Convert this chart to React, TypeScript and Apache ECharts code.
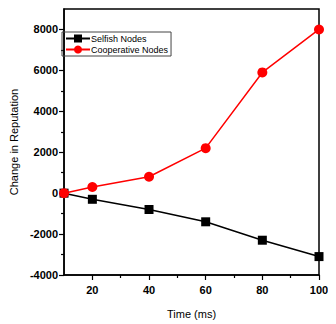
import React, { useEffect, useRef } from "react";
import * as echarts from "echarts";

const times = [10, 20, 40, 60, 80, 100];
const selfish = [0, -300, -800, -1400, -2300, -3100];
const cooperative = [0, 300, 800, 2200, 5900, 8000];
const xMajor = [20, 40, 60, 80, 100];
const xMinor = [30, 50, 70, 90];
const yMajor = [-4000, -2000, 0, 2000, 4000, 6000, 8000];
const yMinor = [-3000, -1000, 1000, 3000, 5000, 7000];

const FONT = "Liberation Sans";

export default function App() {
  const ref = useRef<HTMLDivElement>(null);
  useEffect(() => {
    const chart = echarts.init(ref.current!, null, { renderer: "svg" });
    const axisLine = { show: true, onZero: false, lineStyle: { color: "#000", width: 1.5 } };
    const baseX = { type: "value", min: 10, max: 100, splitLine: { show: false } };
    const baseY = { type: "value", min: -4000, max: 9000, splitLine: { show: false } };
    const fmt = (v: number) => String(v);
    chart.setOption({
      animation: false,
      backgroundColor: "#fff",
      grid: { left: 56, right: 17, top: 9, bottom: 47, show: true, borderColor: "#000", borderWidth: 1.5 },
      legend: {
        left: 62,
        top: 32,
        orient: "vertical",
        borderColor: "#444",
        borderWidth: 1,
        borderRadius: 0,
        padding: [2, 3, 2, 3],
        itemGap: 2,
        itemWidth: 24,
        itemHeight: 10,
        textStyle: { fontFamily: FONT, fontSize: 9, color: "#000", padding: [0, 0, 0, -4] },
        data: ["Selfish Nodes", "Cooperative Nodes"],
      },
      xAxis: [
        {
          ...baseX,
          name: "Time (ms)",
          nameLocation: "middle",
          nameGap: 33,
          nameTextStyle: { fontFamily: FONT, fontSize: 11, color: "#000" },
          axisLine,
          axisTick: { show: true, customValues: xMajor, length: 5, lineStyle: { color: "#000", width: 1.2 } },
          axisLabel: { customValues: xMajor, formatter: fmt, fontFamily: FONT, fontWeight: "bold", fontSize: 11, color: "#000", margin: 9 },
        },
        {
          ...baseX,
          position: "bottom",
          axisLine: { show: false, onZero: false },
          axisTick: { show: true, customValues: xMinor, length: 3, lineStyle: { color: "#000", width: 1.2 } },
          axisLabel: { show: false },
        },
      ],
      yAxis: [
        {
          ...baseY,
          name: "Change in Reputation",
          nameLocation: "middle",
          nameGap: 44,
          nameTextStyle: { fontFamily: FONT, fontSize: 11, color: "#000" },
          axisLine,
          axisTick: { show: true, customValues: yMajor, length: 5, lineStyle: { color: "#000", width: 1.2 } },
          axisLabel: { customValues: yMajor, formatter: fmt, fontFamily: FONT, fontWeight: "bold", fontSize: 11, color: "#000", margin: 6 },
        },
        {
          ...baseY,
          position: "left",
          axisLine: { show: false, onZero: false },
          axisTick: { show: true, customValues: yMinor, length: 3, lineStyle: { color: "#000", width: 1.2 } },
          axisLabel: { show: false },
        },
      ],
      series: [
        {
          name: "Selfish Nodes",
          type: "line",
          data: times.map((t, i) => [t, selfish[i]]),
          symbol: "rect",
          symbolSize: 9,
          itemStyle: { color: "#000" },
          lineStyle: { color: "#000", width: 1.5 },
        },
        {
          name: "Cooperative Nodes",
          type: "line",
          data: times.map((t, i) => [t, cooperative[i]]),
          symbol: "circle",
          symbolSize: 10,
          itemStyle: { color: "#ff0000" },
          lineStyle: { color: "#ff0000", width: 1.5 },
        },
      ],
    });
    return () => chart.dispose();
  }, []);
  return <div ref={ref} style={{ width: 336, height: 324, marginLeft: -8, marginTop: -8 }} />;
}
